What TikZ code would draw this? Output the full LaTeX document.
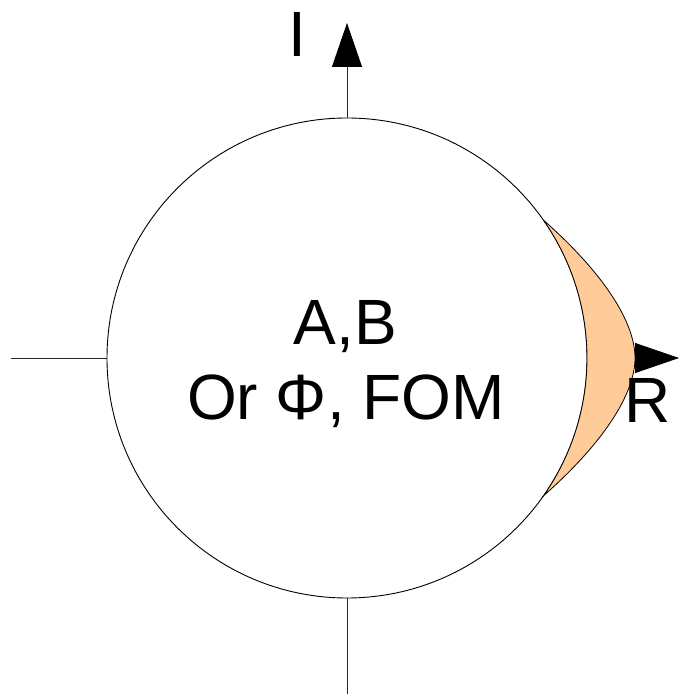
\documentclass[tikz,border=0pt]{standalone}
\usepackage{fontspec}
\setmainfont{Liberation Sans}
\usetikzlibrary{arrows.meta}
\definecolor{peach}{HTML}{FFCC99}
\begin{document}
\begin{tikzpicture}[x=1pt,y=1pt,
  axis/.style={line width=0.9pt,draw=black!85},
  bigtext/.style={font=\fontsize{64}{75}\selectfont,inner sep=0pt},
  tip/.style={-{Triangle[length=44pt,width=30pt,color=black,fill=black]}}]
\useasboundingbox (0,0) rectangle (680,694);
% axes
\coordinate (bot) at (347,0);
\coordinate (top) at (347,671);
\coordinate (left) at (11,336);
\coordinate (right) at (679,336);
\draw[axis,tip] (bot) -- (top);
\draw[axis,tip] (left) -- (right);
% circle
\node[circle,draw=black,line width=0.9pt,fill=white,minimum size=480pt,inner sep=0pt] (c) at (347,336) {};
% crescent
\coordinate (ct) at (543.6,473.7);
\coordinate (cb) at (543.6,198.3);
\coordinate (cr) at (635,336);
\filldraw[fill=peach,draw=black,line width=0.8pt]
  (ct) .. controls (600,424) and (635,374) .. (cr)
       .. controls (635,298) and (600,248) .. (cb)
  arc[start angle=-35,end angle=35,radius=240];
% texts
\node[bigtext,anchor=base] (t1) at (345.5,349) {A,B};
\node[bigtext,anchor=base] (t2) at (346,274) {Or Φ, FOM};
\node[bigtext,anchor=base] (li) at (297.5,637) {I};
\node[bigtext,anchor=base] (lr) at (648,271) {R};
\end{tikzpicture}
\end{document}
